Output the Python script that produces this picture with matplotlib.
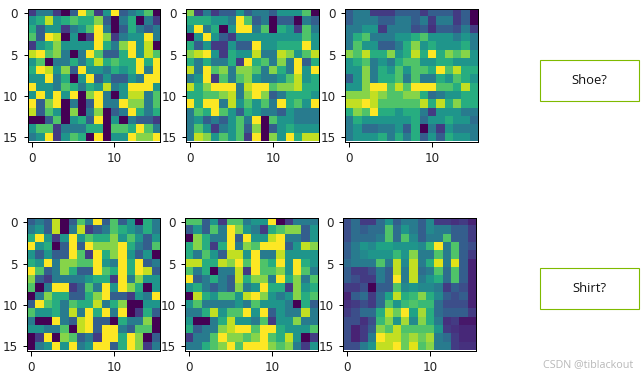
import numpy as np
import matplotlib
matplotlib.use("Agg")
import matplotlib.pyplot as plt
from matplotlib.colors import PowerNorm
from matplotlib.patches import Rectangle

W, H = 644, 376

shoe_a = [
 [1,3,3,1,0,2,9,6,1,4,9,2,3,4,6,0],
 [4,5,8,4,5,6,5,5,7,2,0,3,5,0,3,1],
 [5,2,4,4,1,3,4,6,9,3,0,2,5,3,2,3],
 [6,2,9,8,0,4,0,1,9,7,1,3,4,4,9,3],
 [1,4,5,7,4,4,4,4,9,5,3,7,9,4,8,0],
 [8,9,6,7,3,0,3,9,6,2,2,5,9,4,8,6],
 [4,6,0,3,3,5,3,5,8,5,6,5,5,9,5,9],
 [5,9,8,4,7,2,9,4,4,3,5,4,5,9,3,9],
 [4,4,9,3,5,0,4,9,2,4,2,2,4,3,9,9],
 [9,4,4,3,6,5,3,5,4,8,3,4,9,9,9,4],
 [4,9,4,9,4,9,0,7,9,3,0,4,8,8,3,6],
 [9,2,7,9,0,3,0,2,9,3,3,9,7,7,3,6],
 [8,2,6,4,0,7,0,3,7,0,2,3,9,5,3,5],
 [0,0,2,6,0,4,5,2,9,0,4,0,3,2,2,1],
 [4,6,6,1,3,3,3,5,5,0,6,6,5,9,6,3],
 [3,4,9,1,4,6,5,0,9,0,4,4,9,7,7,9],
]
shoe_b = [
 [7,1,3,1,2,2,4,2,3,3,2,4,4,4,6,0],
 [5,5,5,4,4,3,9,6,2,3,0,2,2,0,3,2],
 [4,9,3,5,0,4,9,9,3,6,0,5,4,1,6,3],
 [0,4,9,4,2,1,4,4,4,4,4,4,4,4,6,4],
 [5,2,4,1,1,4,2,2,9,4,4,5,5,5,9,4],
 [7,8,9,4,1,5,4,4,8,3,3,8,7,4,6,8],
 [5,3,5,3,3,5,1,9,5,6,3,7,3,9,2,5],
 [8,3,9,6,7,3,7,7,6,3,7,5,3,9,4,9],
 [3,4,9,1,6,3,6,7,4,3,3,4,6,8,4,5],
 [8,5,7,9,9,9,3,8,9,9,6,7,7,8,5,5],
 [5,5,6,6,7,8,3,7,9,7,2,3,5,5,5,4],
 [9,5,9,9,3,8,4,6,4,6,3,9,5,6,4,9],
 [3,6,5,9,6,4,2,5,4,3,3,2,4,3,3,3],
 [3,4,2,3,2,4,6,3,9,0,6,4,4,3,3,3],
 [3,6,4,1,3,4,6,2,7,0,2,4,5,4,4,4],
 [3,8,7,4,6,4,6,1,9,0,7,4,9,5,8,8],
]
shoe_c = [
 [2,3,3,1,1,1,2,2,2,1,2,2,2,1,2,0],
 [2,3,3,3,2,2,3,3,2,3,1,3,3,1,2,0],
 [3,3,4,4,1,3,3,3,1.5,2,0.8,2,2,1.5,3,1],
 [3,5,6,3,3,3,4,4,5,6,4,4,4,3,4,3],
 [3,6,4,4,2,2,3,5,7,4,5,4,4,4,5,3],
 [7,6,8,5,5,7,4,5,8,5,9,5,7,6,7,4],
 [4,5,6,3,4,3,5,6,6,4,4,5,5,4,4,4],
 [4,4,7,3,5,4,6,4,6,6,5,9,6,8,5,5],
 [2,4,7,3,5,5,6,3,6,3,3,5,4,6,5,4],
 [4,4,7,9,9,6,8,6,9,9.5,9,6,6,5,8,5],
 [7,7,7,8,7,6,6,7,7,5,2.5,3,4,4,5,5],
 [8,8,9,8,6,6,6,6,6,8,5,8,5,7,5,5],
 [5,7,6,9,5,5,4,5,5,3,1,4,4,4,3,3],
 [3,5,4,4,4,4,4,4,5,2.5,4,4,5,4,4,2.5],
 [3,4,2.5,2.5,3,3,4,2,5,0,3,1,4,3,3,3],
 [3,4,4,4,5,3,5,3,5,2,4,2,5,4,4,3],
]
shirt_a = [
 [2,3,2,8,0,2,6,3,9,2,6,2,4,0,5,3],
 [3,4,2,8,0,3,8,1,2,3,6,5,4,3,5,3],
 [5,9,4,1,4,9,4,6,5,5,7,4,6,4,2,4],
 [9,4,5,0,2,9,2,9,7,7,7,9,5,3,2,6],
 [4,2,4,2,2,9,6,1,9,5,7,9,4,2,4,0],
 [5,4,9,3,7,7,6,6,9,4,3,9,5,9,2,3],
 [9,6,2,3,7,5,2,2,9,6,5,9,5,9,8,2],
 [7,2,1,3,3,3,3,4,5,5,1,9,3,7,4,4],
 [6,0,3,9,9,1,2,6,3,9,4,9,7,5,0,4],
 [0,3,7,5,5,2,2,5,7,9,2,2,1,4,3,9],
 [2,9,6,5,3,6,5,5,8,3,5,7,0,0,4,4],
 [6,4,4,5,3,8,3,9,5,9,3,9,0,1,5,2],
 [3,0,0,9,3,2,8,9,2,2,0,5,3,3,7,0],
 [4,4,3,3,6,0,8,9,2,9,9,3,2,6,6,0],
 [0,1,9,0,7,6,2,3,1,9,9,5,9,7,0,2],
 [0,3,4,9,4,9,3,4,9,9,2,5,9,7,1,3],
]
shirt_b = [
 [6,6,2,4,1,6,6,3,4,4,9,0,1,3,3,3],
 [2,4,2,6,3,9,7,4,3,1,5,6,7,7,2,4],
 [0,7,5,3,3,9,2,9,4,4,8,9,3,3,2,4],
 [5,7,5,1,5,9,3,7,6,9,9,9,2,4,8,7],
 [5,3,6,4,2,8,8,4,9,3,3,8,4,4,4,4],
 [8,8,5,5,8,7,9,6,9,6,5,9,4,9,5,4],
 [6,3,5,0,3,3,8,1,9,6,6,7,4,9,6,3],
 [9,2,3,5,3,2,8,5,7,7,3,9,5,7,3,6],
 [4,5,3,2,3,2,7,3,4,9,5,5,1,7,4,5],
 [0,8,5,4,6,6,4,8,9,7,4,3,4,7,5,6],
 [4,6,3,3,3,3,4,3,6,4,4,4,3,0,5,2],
 [3,3,5,8,4,6,6,9,4,9,2,4,3,3,8,3],
 [4,0,0,3,5,8,4,4,3,6,1,4,4,7,3,3],
 [5,2,3,3,7,8,9,9,6,9,9,5,4,4,4,6],
 [1,3,3,6,9,7,7,6,7,9,6,5,8,4,0,1],
 [3,3,5,6,7,9,6,9,9,9,7,6,7,3,1,4],
]
shirt_c = [
 [1.5,2.5,1,1,2.5,4,2,3,3,2,3.5,1,1,0.8,1,0.5],
 [1.5,2.5,2,2.5,2.5,6,2.5,4,3,2,3.5,3,3,2,2,1],
 [1.5,2.5,2.5,2.5,3,6,2.5,6,3.5,2,3,3,6,2,2,1],
 [2,3,4,3.5,4.5,4.5,4,4,4,3.5,5.5,9,3,6,2,1.5],
 [2,3,3.5,4,4,4,5.5,4,7,3,3,6,3,6,2,1],
 [2.5,3,3,3,6,3,8,3.5,8,3,5,8.5,3,8.5,2,0.5],
 [2,1,1,1.5,3,2,8,3,8,2.5,3,6,2.5,6,2,0.5],
 [2,1.5,1,1,3,2,9,3,8,3,4,5,2.5,6,2,0.5],
 [1,1,1.5,0,2,2,6,3.5,4,3.5,3.5,3,1,2,1.5,0.5],
 [0.5,2,2.5,1,2.5,4.5,8,5,5.5,7,5,3.5,2,1.5,2,0.5],
 [0.8,1,1.5,1,2.5,6,4,5.5,6,5.5,5.5,2.5,1.5,1.5,1.5,0.5],
 [1,1.5,2.5,2.5,5,8,6.5,9,4.5,7.5,5,2.5,2,2,2,1],
 [1.5,1.5,0.8,1.5,5.5,7,4,7.5,3.5,7,5,3,0.8,1,0.3,0.3],
 [1.5,0.5,1,2,7,6,8,6,6,6,6,4,1,0.8,0.6,0.6],
 [1.5,0.5,1,3,9,8,8,6.5,7.5,6.5,7.5,3,2.5,1,0.6,0.6],
 [1.5,1.5,3,4,8,8,9.5,6.5,8.5,6,7,3,3,1,0.8,0.8],
]

panels = [
    [shoe_a, shoe_b, shoe_c],
    [shirt_a, shirt_b, shirt_c],
]
labels = ["Shoe?", "Shirt?"]
xticks = [0, 10]
yticks = [0, 5, 10, 15]

lefts = [[27.5, 186, 345], [27, 185, 343]]
tops = [9, 218]
size = 132.5
box_tops = [60, 268]

fig = plt.figure(figsize=(W / 72, H / 72), dpi=72, facecolor="white")
norm = PowerNorm(0.8, vmin=0, vmax=9, clip=True)

for r, row in enumerate(panels):
    for c, data in enumerate(row):
        ax = fig.add_axes([lefts[r][c] / W, 1 - (tops[r] + size) / H, size / W, size / H])
        ax.imshow(np.array(data, dtype=float), cmap="viridis", norm=norm,
                  interpolation="nearest", aspect="equal")
        ax.set_xticks(xticks)
        ax.set_yticks(yticks)
        ax.tick_params(labelsize=12, length=4.5, width=1.0, labelcolor="#222222")
        ax.tick_params(axis="x", pad=6)
        ax.tick_params(axis="y", pad=5)
        for s in ax.spines.values():
            s.set_linewidth(1.0)
    fig.add_artist(Rectangle((540 / W, 1 - (box_tops[r] + 41) / H), 99 / W, 41 / H,
                             transform=fig.transFigure, facecolor="white",
                             edgecolor="#7FBA00", linewidth=1.1))
    fig.text(589.5 / W, 1 - (box_tops[r] + 21) / H, labels[r], ha="center", va="center",
             fontsize=13, family="Open Sans", color="#111111")

fig.text(588.5 / W, 1 - 365 / H, "CSDN @tiblackout", ha="center", va="center",
         fontsize=10.8, family="Open Sans", color="#b8b8b8")

fig.savefig("out.png", dpi=72)
